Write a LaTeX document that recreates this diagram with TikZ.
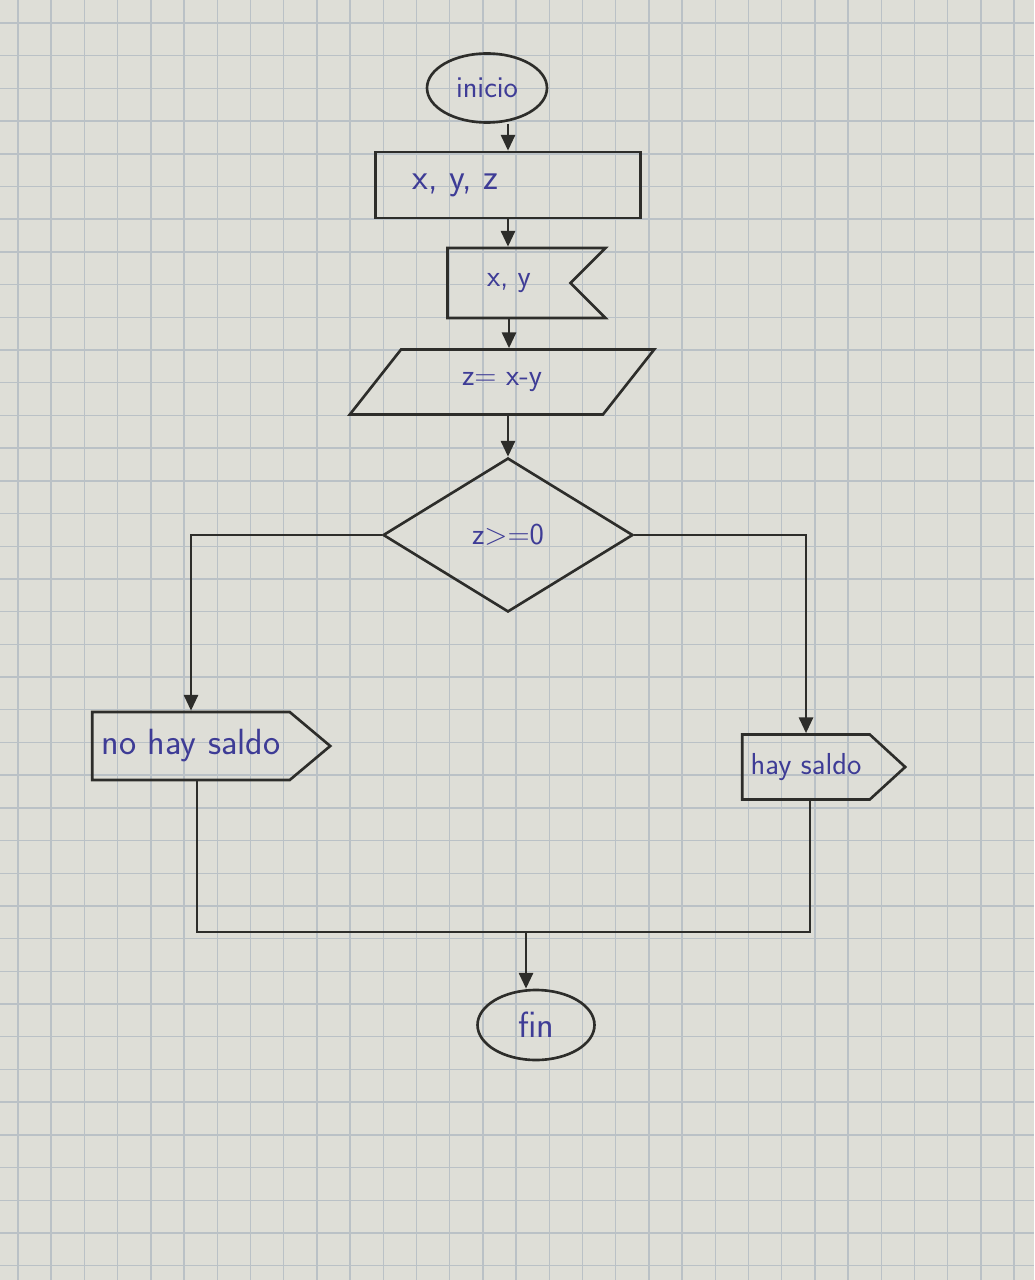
\documentclass[tikz,border=0pt]{standalone}
\usepackage{tikz}
\usetikzlibrary{arrows.meta,shapes.geometric,shapes.symbols,positioning}
\definecolor{paper}{RGB}{222,222,215}
\definecolor{gridc}{RGB}{186,193,198}
\definecolor{pen}{RGB}{45,45,42}
\definecolor{ink}{RGB}{62,60,150}

\begin{document}
\begin{tikzpicture}[x=0.02cm,y=-0.02cm,
  shp/.style={draw=pen,line width=1.5pt,text=ink,font=\sffamily\LARGE,inner sep=2pt},
  term/.style={shp,ellipse,minimum width=2.4cm,minimum height=1.38cm},
  inbox/.style={shp,rectangle,minimum width=5.3cm,minimum height=1.32cm},
  card/.style={shp,signal,signal to=nowhere,signal from=east,minimum width=3.16cm,minimum height=1.4cm},
  proc/.style={shp,trapezium,trapezium left angle=50,trapezium right angle=130,
    trapezium stretches=true,minimum width=6.1cm,minimum height=1.3cm},
  cond/.style={shp,diamond,minimum width=5cm,minimum height=3.08cm},
  outb/.style={shp,signal,signal to=east},
  link/.style={draw=pen,line width=1.5pt},
  flow/.style={link,-{Triangle[length=9pt,width=8pt]}}]
\useasboundingbox (0,0) rectangle (1034,1280);
% paper
\fill[paper] (0,0) rectangle (1034,1280);
\foreach \i in {0,...,31} \draw[gridc,line width=0.8pt] ({18+33.2*\i},0) -- ({18+33.2*\i},1280);
\foreach \i in {0,...,38} \draw[gridc,line width=0.8pt] (0,{23+32.7*\i}) -- (1034,{23+32.7*\i});

% shapes
\node[term] (inicio) at (487,88) {inicio};
\node[inbox,label={[text=ink,font=\sffamily\huge,xshift=-1.05cm]center:x, y, z}] (datos) at (508,185) {};
\node[card] (lee) at (509,283) {x, y};
\node[proc] (resta) at (502,382) {z= x-y};
\node[cond] (test) at (508,535) {z>=0};
\node[outb,font=\sffamily\huge,minimum width=4.76cm,minimum height=1.36cm,signal pointer angle=80] (nosaldo) at (191,746) {no hay saldo};
\node[outb,minimum width=3.26cm,minimum height=1.3cm,signal pointer angle=85] (saldo) at (806,767) {hay saldo};
\node[term,font=\sffamily\huge,minimum width=2.34cm,minimum height=1.4cm] (fin) at (536,1025) {fin};

% connectors
\draw[flow] (inicio.south -| datos.north) -- (datos.north);
\draw[flow] (datos.south) -- (datos.south |- lee.north);
\draw[flow] (lee.south) -- (lee.south |- resta.north);
\draw[flow] (resta.south -| test.north) -- (test.north);
\draw[flow] (test.west) -| (nosaldo.north);
\draw[flow] (test.east) -| (saldo.north);
\coordinate (junta) at (526,932);
\draw[link] ([xshift=0.12cm]nosaldo.south) |- (junta) -| ([xshift=0.08cm]saldo.south);
\draw[flow] (junta) -- (junta |- fin.north);
\end{tikzpicture}
\end{document}
